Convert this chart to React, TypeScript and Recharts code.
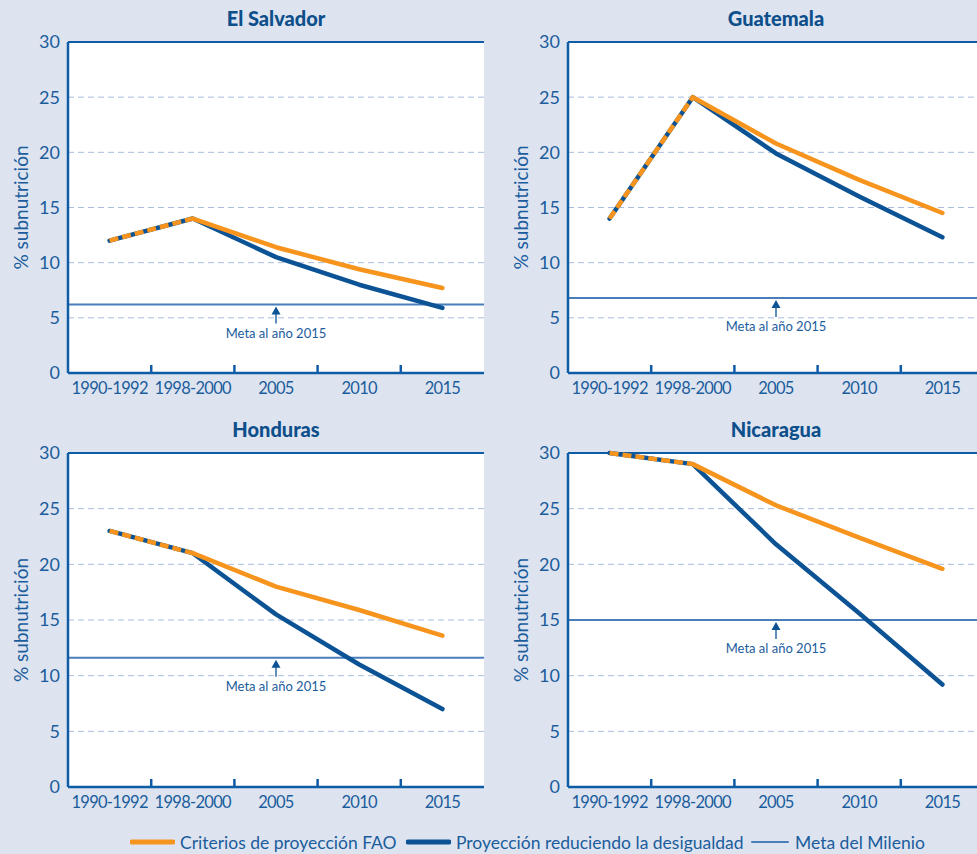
import React from 'react'
import { LineChart, Line, XAxis, YAxis, CartesianGrid, ReferenceLine } from 'recharts'

const categories = ['1990-1992', '1998-2000', '2005', '2010', '2015']
const yTicks = [0, 5, 10, 15, 20, 25, 30]

const salvadorFao = [12, 14, 11.4, 9.4, 7.7]
const salvadorRed = [12, 14, 10.5, 8.0, 5.9]
const guatemalaFao = [14, 25, 20.8, 17.5, 14.5]
const guatemalaRed = [14, 25, 19.9, 16.0, 12.3]
const hondurasFao = [23, 21, 18.0, 15.9, 13.6]
const hondurasRed = [23, 21, 15.5, 11.0, 7.0]
const nicaraguaFao = [30, 29, 25.3, 22.4, 19.6]
const nicaraguaRed = [30, 29, 21.8, 15.6, 9.2]

const metas = { salvador: 6.2, guatemala: 6.8, honduras: 11.6, nicaragua: 15 }

const FONT = 'Lato, "Open Sans", sans-serif'
const TEXT = '#1b5c9c'
const BORDER = '#0f5ca6'
const ORANGE = '#f7941d'
const BLUE = '#0b5394'
const META = '#4a7ebb'
const GRID = '#a9bcdc'
const BG = '#dde4f0'

const PLOT_W = 416
const BAND = PLOT_W / categories.length

function buildRows(fao: number[], red: number[]) {
  return categories.map((cat, i) => ({
    cat,
    red: red[i],
    fao: i >= 1 ? fao[i] : null,
    hist: i <= 1 ? fao[i] : null,
  }))
}

function XTick(props: any) {
  const { x, y, payload, index } = props
  return (
    <g>
      {index > 0 && (
        <line x1={x - BAND / 2} x2={x - BAND / 2} y1={y} y2={y - 8} stroke={BORDER} strokeWidth={2.5} />
      )}
      <text
        x={x}
        y={y + 21}
        textAnchor="middle"
        fontSize={16.5}
        letterSpacing={-0.7}
        fill={TEXT}
        fontFamily={FONT}
      >
        {payload.value}
      </text>
    </g>
  )
}

function MetaLabel(props: any) {
  const { viewBox } = props
  const cx = viewBox.x + viewBox.width / 2
  const y = viewBox.y
  return (
    <g>
      <line x1={cx} x2={cx} y1={y + 6} y2={y + 19} stroke={BLUE} strokeWidth={1.3} />
      <path d={`M ${cx - 4.5} ${y + 10} L ${cx} ${y + 2} L ${cx + 4.5} ${y + 10} Z`} fill={BLUE} />
      <text x={cx} y={y + 33} textAnchor="middle" fontSize={13} fill={TEXT} fontFamily={FONT}>
        Meta al año 2015
      </text>
    </g>
  )
}

interface PanelProps {
  title: string
  fao: number[]
  red: number[]
  meta: number
  left: number
  top: number
  yAxisW: number
  marginTop: number
  height: number
}

function Panel({ title, fao, red, meta, left, top, yAxisW, marginTop, height }: PanelProps) {
  const rows = buildRows(fao, red)
  const width = yAxisW + PLOT_W + 6
  return (
    <div style={{ position: 'absolute', left, top, width, height }}>
      <div
        style={{
          position: 'absolute',
          left: yAxisW,
          width: PLOT_W,
          top: marginTop - 36,
          textAlign: 'center',
          fontFamily: FONT,
          fontWeight: 900,
          fontSize: 20,
          color: '#0d4f8b',
        }}
      >
        {title}
      </div>
      <LineChart width={width} height={height} data={rows} margin={{ top: marginTop, right: 6, bottom: 0, left: 0 }}>
        <CartesianGrid vertical={false} stroke={GRID} strokeDasharray="6 4" fill="#ffffff" />
        <XAxis
          dataKey="cat"
          scale="band"
          height={27}
          tickLine={false}
          tickSize={0}
          tickMargin={0}
          tick={<XTick />}
          interval={0}
          axisLine={{ stroke: BORDER, strokeWidth: 2.5 }}
        />
        <YAxis
          domain={[0, 30]}
          ticks={yTicks}
          width={yAxisW}
          tickLine={false}
          tickSize={0}
          tickMargin={8}
          tick={{ fontSize: 18, fill: TEXT, fontFamily: FONT }}
          axisLine={{ stroke: BORDER, strokeWidth: 2.5 }}
          label={{
            content: (p: any) => {
              const vb = p.viewBox
              const lx = vb.x + vb.width - 48
              const ly = vb.y + vb.height / 2
              return (
                <text
                  x={lx}
                  y={ly}
                  transform={`rotate(-90 ${lx} ${ly})`}
                  textAnchor="middle"
                  dominantBaseline="central"
                  fontSize={19}
                  fill={TEXT}
                  fontFamily={FONT}
                >
                  % subnutrición
                </text>
              )
            },
          }}
        />
        <YAxis
          yAxisId="border"
          orientation="right"
          domain={[0, 30]}
          width={0}
          tick={false}
          tickLine={false}
          axisLine={{ stroke: BORDER, strokeWidth: 2 }}
        />
        <ReferenceLine y={30} stroke={BORDER} strokeWidth={2} />
        <ReferenceLine y={meta} stroke={META} strokeWidth={2} label={<MetaLabel />} />
        <Line
          dataKey="red"
          stroke={BLUE}
          strokeWidth={4.5}
          dot={false}
          strokeLinecap="round"
          strokeLinejoin="round"
          isAnimationActive={false}
        />
        <Line
          dataKey="fao"
          stroke={ORANGE}
          strokeWidth={4.5}
          dot={false}
          strokeLinecap="round"
          strokeLinejoin="round"
          isAnimationActive={false}
        />
        <Line
          dataKey="hist"
          stroke={ORANGE}
          strokeWidth={4.5}
          strokeDasharray="9 4"
          dot={false}
          strokeLinecap="butt"
          isAnimationActive={false}
        />
      </LineChart>
    </div>
  )
}

function LegendItem({ x, label, stroke, sw, len }: { x: number; label: string; stroke: string; sw: number; len: number }) {
  return (
    <div style={{ position: 'absolute', left: x, top: 0, display: 'flex', alignItems: 'center', height: 24 }}>
      <svg width={len + 4} height={10} style={{ marginRight: 5 }}>
        <line x1={2} x2={len + 2} y1={5} y2={5} stroke={stroke} strokeWidth={sw} strokeLinecap="round" />
      </svg>
      <span style={{ fontFamily: FONT, fontSize: 17.5, color: TEXT, whiteSpace: 'nowrap' }}>{label}</span>
    </div>
  )
}

export default function App() {
  return (
    <div
      style={{
        position: 'absolute',
        left: 0,
        top: 0,
        width: 977,
        height: 854,
        overflow: 'hidden',
        background: BG,
      }}
    >
      <Panel title="El Salvador" fao={salvadorFao} red={salvadorRed} meta={metas.salvador} left={0} top={0} yAxisW={68} marginTop={42} height={400} />
      <Panel title="Guatemala" fao={guatemalaFao} red={guatemalaRed} meta={metas.guatemala} left={490} top={0} yAxisW={78} marginTop={42} height={400} />
      <Panel title="Honduras" fao={hondurasFao} red={hondurasRed} meta={metas.honduras} left={0} top={400} yAxisW={68} marginTop={53} height={414} />
      <Panel title="Nicaragua" fao={nicaraguaFao} red={nicaraguaRed} meta={metas.nicaragua} left={490} top={400} yAxisW={78} marginTop={53} height={414} />
      <div style={{ position: 'absolute', left: 0, top: 830, width: 977, height: 24 }}>
        <LegendItem x={130} label="Criterios de proyección FAO" stroke={ORANGE} sw={5} len={41} />
        <LegendItem x={406} label="Proyección reduciendo la desigualdad" stroke={BLUE} sw={5} len={41} />
        <LegendItem x={750} label="Meta del Milenio" stroke={META} sw={2} len={36} />
      </div>
    </div>
  )
}
